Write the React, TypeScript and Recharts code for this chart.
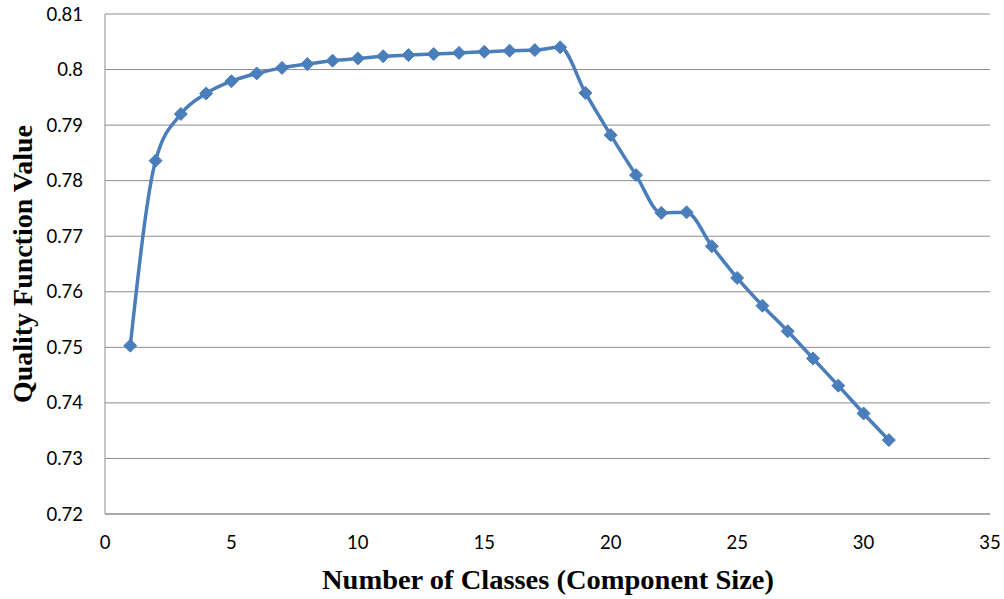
import { CartesianGrid, Line, LineChart, XAxis, YAxis } from "recharts";

const classes = [
  1, 2, 3, 4, 5, 6, 7, 8, 9, 10, 11, 12, 13, 14, 15, 16, 17, 18, 19, 20, 21,
  22, 23, 24, 25, 26, 27, 28, 29, 30, 31,
];
const quality = [
  0.7503, 0.7836, 0.792, 0.7957, 0.7979, 0.7993, 0.8003, 0.801, 0.8016,
  0.802, 0.8024, 0.8026, 0.8028, 0.803, 0.8032, 0.8034, 0.8035, 0.804,
  0.7958, 0.7882, 0.781, 0.7742, 0.7743, 0.7682, 0.7625, 0.7575, 0.7529,
  0.748, 0.7431, 0.7381, 0.7333,
];
const xTicks = [0, 5, 10, 15, 20, 25, 30, 35];
const yTicks = [0.72, 0.73, 0.74, 0.75, 0.76, 0.77, 0.78, 0.79, 0.8, 0.81];

const data = classes.map((c, i) => ({ c, q: quality[i] }));

const blue = "#4A7EBB";
const tickStyle = { fontFamily: "Lato", fontSize: 18.5, fill: "#000" };

const Diamond = (props: any) => {
  const { cx, cy } = props;
  if (cx == null || cy == null) return null;
  const r = 6.5;
  return (
    <polygon
      points={`${cx},${cy - r} ${cx + r},${cy} ${cx},${cy + r} ${cx - r},${cy}`}
      fill={blue}
      stroke={blue}
      strokeWidth={1}
    />
  );
};

const YTitle = () => (
  <text
    x={22}
    y={264}
    transform="rotate(-90 22 264)"
    textAnchor="middle"
    dominantBaseline="central"
    fontFamily="Liberation Serif"
    fontWeight="bold"
    fontSize={28}
    textLength={278}
    lengthAdjust="spacingAndGlyphs"
  >
    Quality Function Value
  </text>
);

const XTitle = () => (
  <text
    x={548}
    y={579}
    textAnchor="middle"
    dominantBaseline="central"
    fontFamily="Liberation Serif"
    fontWeight="bold"
    fontSize={28}
    textLength={452}
    lengthAdjust="spacingAndGlyphs"
  >
    Number of Classes (Component Size)
  </text>
);

export default function App() {
  return (
    <div style={{ position: "absolute", left: 0, top: 0, background: "#fff" }}>
      <LineChart
        width={1004}
        height={599}
        data={data}
        margin={{ top: 14, right: 14, bottom: 0, left: 0 }}
      >
        <CartesianGrid vertical={false} stroke="#8c8c8c" strokeWidth={1} />
        <XAxis
          dataKey="c"
          type="number"
          domain={[0, 35]}
          ticks={xTicks}
          height={85}
          tickLine={false}
          tickSize={20}
          stroke="#8c8c8c"
          tick={tickStyle}
        />
        <YAxis
          type="number"
          domain={[0.72, 0.81]}
          ticks={yTicks}
          width={105}
          tickLine={false}
          tickSize={20}
          stroke="#8c8c8c"
          tick={tickStyle}
          tickFormatter={(v: number) => String(Number(v.toFixed(2)))}
        />
        <Line
          dataKey="q"
          type="monotone"
          stroke={blue}
          strokeWidth={3.5}
          dot={<Diamond />}
          activeDot={false}
          isAnimationActive={false}
        />
        <YTitle />
        <XTitle />
      </LineChart>
    </div>
  );
}
